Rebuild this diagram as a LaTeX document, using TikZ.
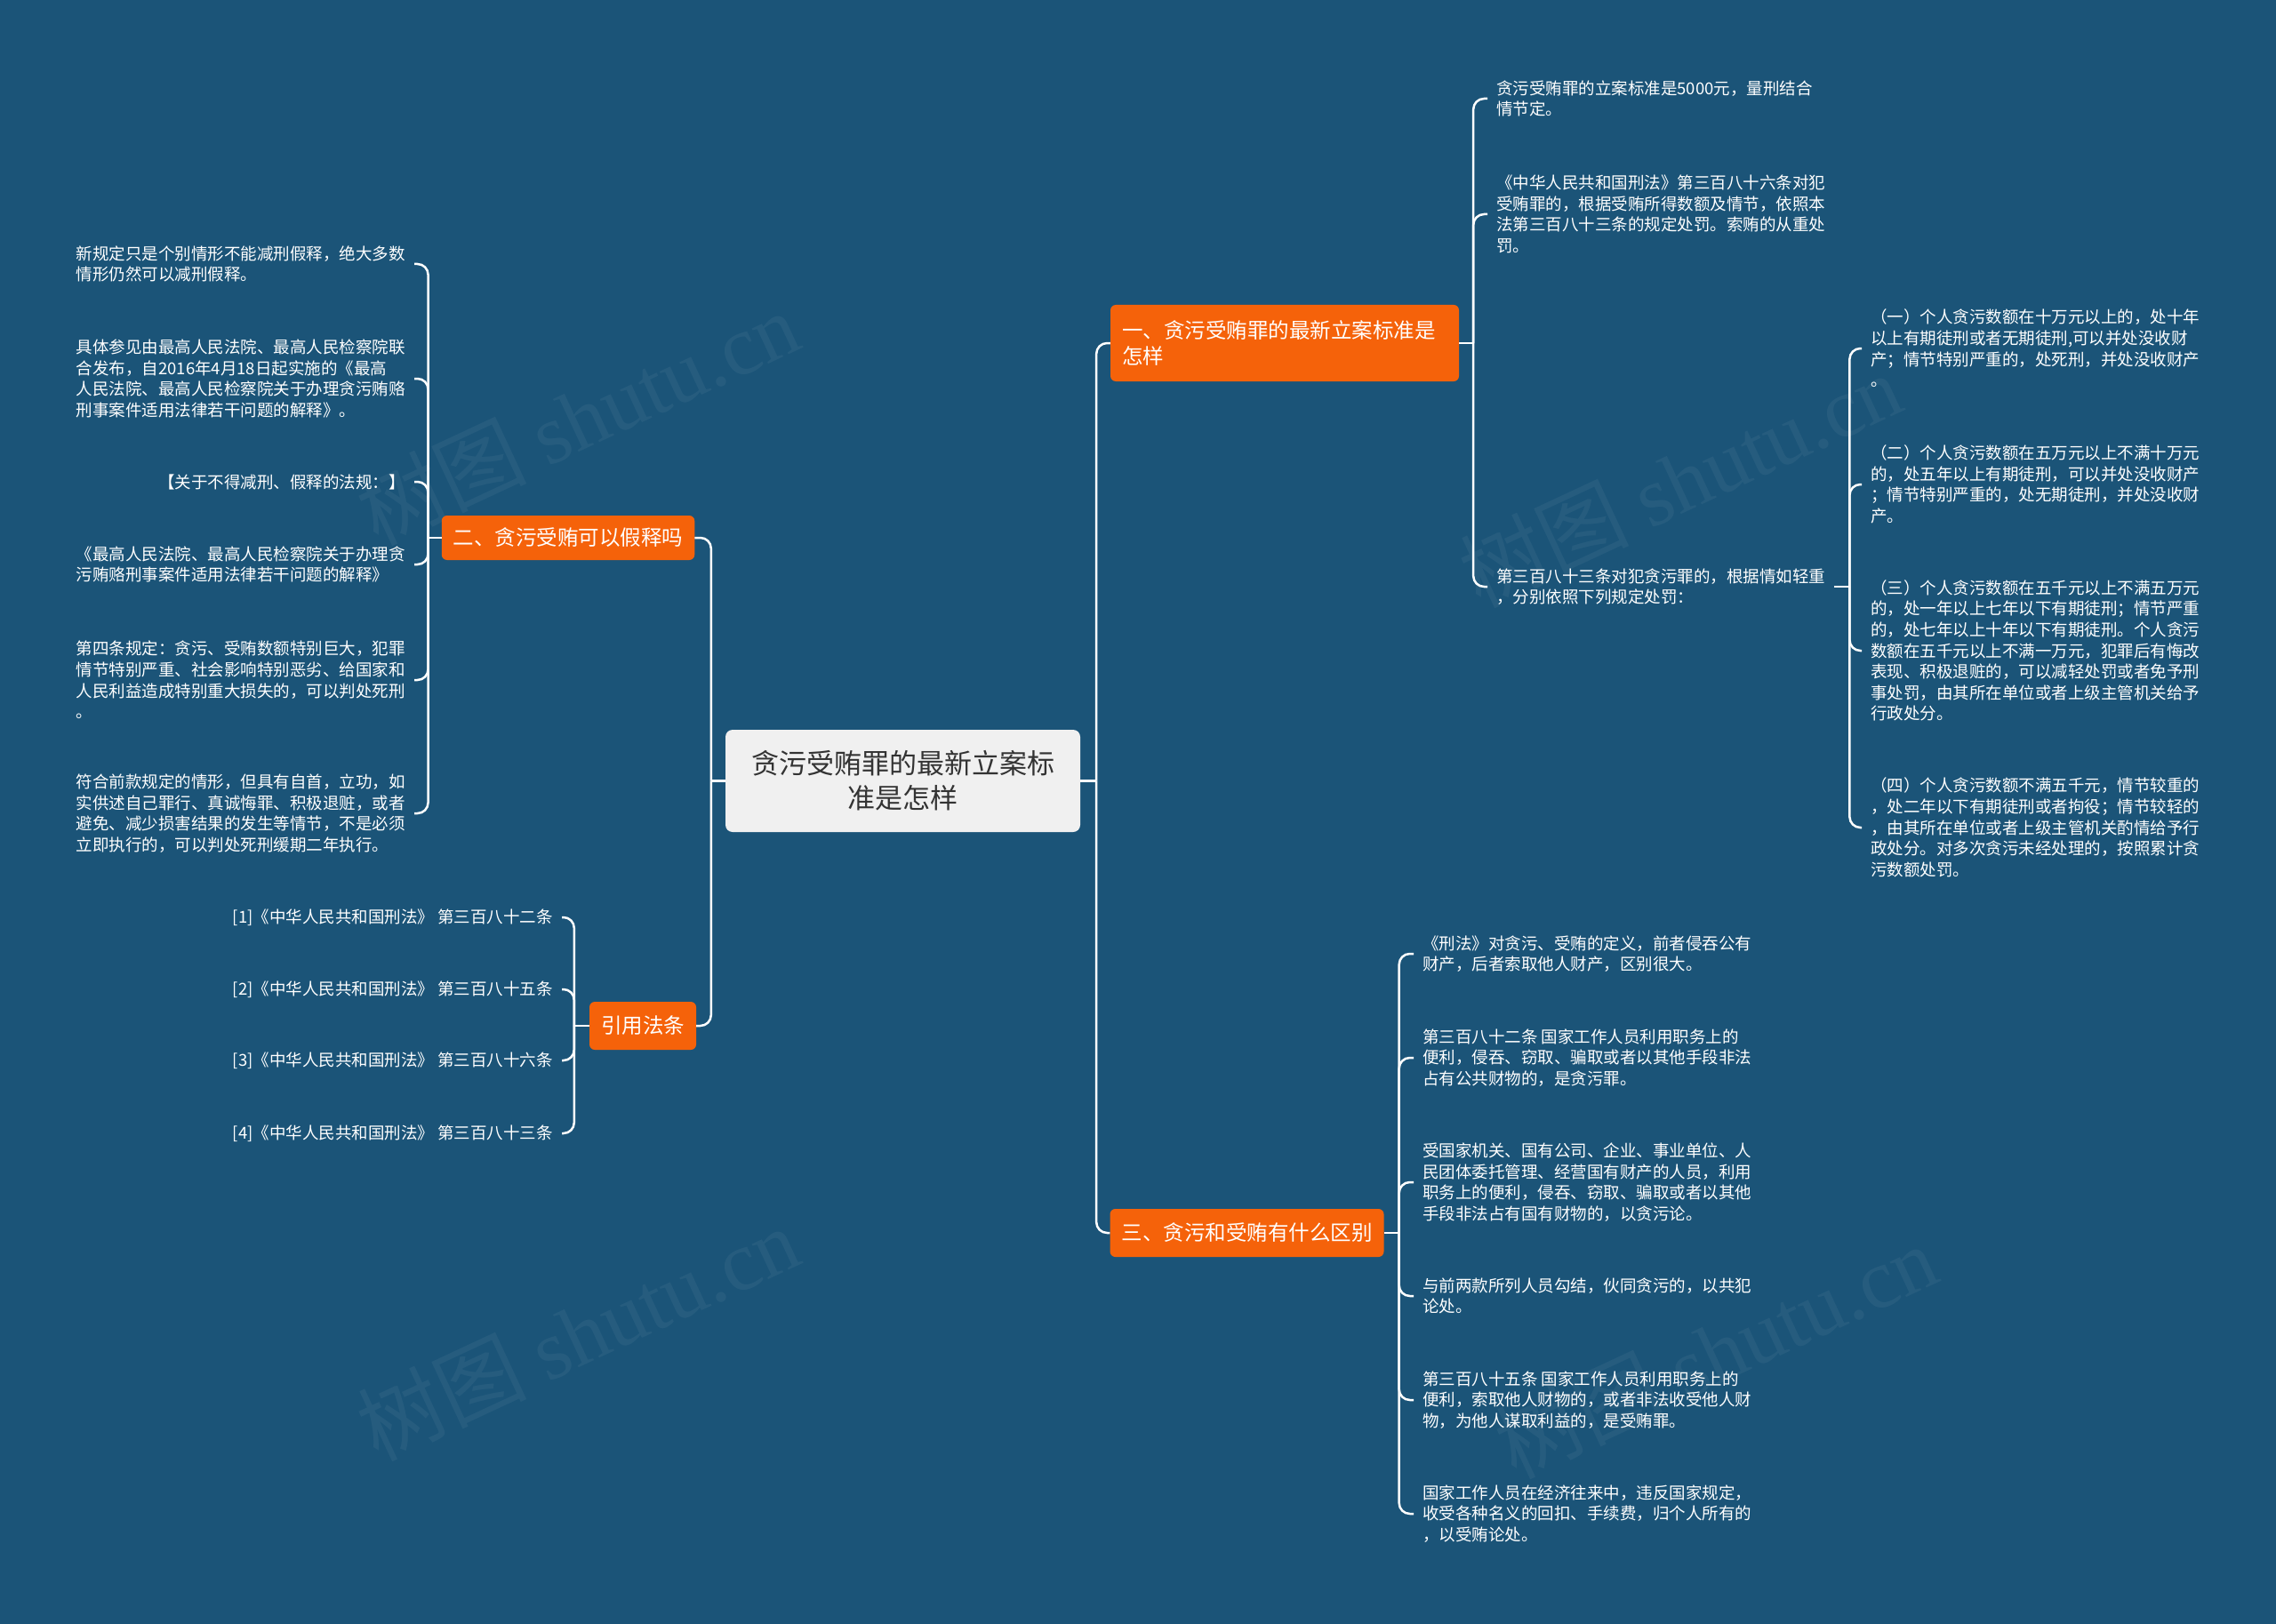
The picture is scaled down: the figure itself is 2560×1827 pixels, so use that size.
\documentclass[tikz,border=0pt]{standalone}
\usepackage{fontspec}
\setmainfont{Noto Sans CJK SC}
\newfontfamily\wmfont{Liberation Serif}
\definecolor{cBg}{HTML}{1B5478}
\definecolor{cBranch}{HTML}{F5620A}
\definecolor{cRoot}{HTML}{F0F0F0}
\definecolor{cRootInk}{HTML}{333333}
\tikzset{
  rootbox/.style={rounded corners=8pt, fill=cRoot, text=cRootInk, align=center, minimum width=399pt, minimum height=115pt, inner sep=0pt, font=\fontsize{31}{39}\selectfont},
  branchbox/.style={rounded corners=6pt, fill=cBranch, text=white, align=left, inner xsep=13pt, inner ysep=0pt, font=\fontsize{23.5}{29}\selectfont},
  leafbox/.style={text=white, align=left, inner xsep=10pt, inner ysep=0pt, font=\fontsize{18.5}{23.6}\selectfont},
  link/.style={draw=white, line width=2.5pt, rounded corners=12pt},
  wmark/.style={text=white, text opacity=0.05, rotate=25, inner sep=0pt, font=\fontsize{95}{95}\selectfont},
}
\begin{document}
\begin{tikzpicture}[x=1pt, y=-1pt]
\useasboundingbox[fill=cBg] (0,0) rectangle (2560,1827);
% watermarks
\node[wmark] (wm1) at (650,470) {树图 {\wmfont shutu.cn}};
\node[wmark] (wm2) at (1890,540) {树图 {\wmfont shutu.cn}};
\node[wmark] (wm3) at (650,1500) {树图 {\wmfont shutu.cn}};
\node[wmark] (wm4) at (1930,1520) {树图 {\wmfont shutu.cn}};
% centre and branches
\node[rootbox] (root) at (1015.5,878.5) {贪污受贿罪的最新立案标\\准是怎样};
\node[branchbox, minimum width=282pt, minimum height=50pt] (b2) at (639,605) {二、贪污受贿可以假释吗};
\node[branchbox, minimum width=118pt, minimum height=54pt] (b4) at (723,1154) {引用法条};
\node[branchbox, text width=366pt, minimum height=86pt] (b1) at (1445,386) {一、贪污受贿罪的最新立案标准是\\怎样};
\node[branchbox, minimum width=307pt, minimum height=54pt] (b3) at (1402.5,1387) {三、贪污和受贿有什么区别};
% branch 一
\node[leafbox, anchor=west] (r1) at (1673,111) {贪污受贿罪的立案标准是5000元，量刑结合\\情节定。};
\node[leafbox, anchor=west] (r2) at (1673,241) {《中华人民共和国刑法》第三百八十六条对犯\\受贿罪的，根据受贿所得数额及情节，依照本\\法第三百八十三条的规定处罚。索贿的从重处\\罚。};
\node[leafbox, anchor=west] (r3) at (1673,660) {第三百八十三条对犯贪污罪的，根据情如轻重\\，分别依照下列规定处罚：};
\node[leafbox, anchor=west] (g1) at (2094,392) {（一）个人贪污数额在十万元以上的，处十年\\以上有期徒刑或者无期徒刑,可以并处没收财\\产；情节特别严重的，处死刑，并处没收财产\\。};
\node[leafbox, anchor=west] (g2) at (2094,545) {（二）个人贪污数额在五万元以上不满十万元\\的，处五年以上有期徒刑，可以并处没收财产\\；情节特别严重的，处无期徒刑，并处没收财\\产。};
\node[leafbox, anchor=west] (g3) at (2094,732) {（三）个人贪污数额在五千元以上不满五万元\\的，处一年以上七年以下有期徒刑；情节严重\\的，处七年以上十年以下有期徒刑。个人贪污\\数额在五千元以上不满一万元，犯罪后有悔改\\表现、积极退赃的，可以减轻处罚或者免予刑\\事处罚，由其所在单位或者上级主管机关给予\\行政处分。};
\node[leafbox, anchor=west] (g4) at (2094,931) {（四）个人贪污数额不满五千元，情节较重的\\，处二年以下有期徒刑或者拘役；情节较轻的\\，由其所在单位或者上级主管机关酌情给予行\\政处分。对多次贪污未经处理的，按照累计贪\\污数额处罚。};
% branch 三
\node[leafbox, anchor=west] (t1) at (1590,1073) {《刑法》对贪污、受贿的定义，前者侵吞公有\\财产，后者索取他人财产，区别很大。};
\node[leafbox, anchor=west] (t2) at (1590,1190) {第三百八十二条 国家工作人员利用职务上的\\便利，侵吞、窃取、骗取或者以其他手段非法\\占有公共财物的，是贪污罪。};
\node[leafbox, anchor=west] (t3) at (1590,1330) {受国家机关、国有公司、企业、事业单位、人\\民团体委托管理、经营国有财产的人员，利用\\职务上的便利，侵吞、窃取、骗取或者以其他\\手段非法占有国有财物的，以贪污论。};
\node[leafbox, anchor=west] (t4) at (1590,1458) {与前两款所列人员勾结，伙同贪污的，以共犯\\论处。};
\node[leafbox, anchor=west] (t5) at (1590,1575) {第三百八十五条 国家工作人员利用职务上的\\便利，索取他人财物的，或者非法收受他人财\\物，为他人谋取利益的，是受贿罪。};
\node[leafbox, anchor=west] (t6) at (1590,1703) {国家工作人员在经济往来中，违反国家规定，\\收受各种名义的回扣、手续费，归个人所有的\\，以受贿论处。};
% branch 二
\node[leafbox, anchor=east] (l1) at (466,297) {新规定只是个别情形不能减刑假释，绝大多数\\情形仍然可以减刑假释。};
\node[leafbox, anchor=east] (l2) at (466,426) {具体参见由最高人民法院、最高人民检察院联\\合发布，自2016年4月18日起实施的《最高\\人民法院、最高人民检察院关于办理贪污贿赂\\刑事案件适用法律若干问题的解释》。};
\node[leafbox, anchor=east] (l3) at (466,542) {【关于不得减刑、假释的法规：】};
\node[leafbox, anchor=east] (l4) at (466,635) {《最高人民法院、最高人民检察院关于办理贪\\污贿赂刑事案件适用法律若干问题的解释》};
\node[leafbox, anchor=east] (l5) at (466,765) {第四条规定：贪污、受贿数额特别巨大，犯罪\\情节特别严重、社会影响特别恶劣、给国家和\\人民利益造成特别重大损失的，可以判处死刑\\。};
\node[leafbox, anchor=east] (l6) at (466,915) {符合前款规定的情形，但具有自首，立功，如\\实供述自己罪行、真诚悔罪、积极退赃，或者\\避免、减少损害结果的发生等情节，不是必须\\立即执行的，可以判处死刑缓期二年执行。};
% 引用法条
\node[leafbox, anchor=east] (c1) at (632,1032) {[1]《中华人民共和国刑法》 第三百八十二条};
\node[leafbox, anchor=east] (c2) at (632,1113) {[2]《中华人民共和国刑法》 第三百八十五条};
\node[leafbox, anchor=east] (c3) at (632,1193) {[3]《中华人民共和国刑法》 第三百八十六条};
\node[leafbox, anchor=east] (c4) at (632,1275) {[4]《中华人民共和国刑法》 第三百八十三条};
% links
\coordinate (jl) at ([xshift=-16pt]root.west);
\coordinate (jr) at ([xshift=18pt]root.east);
\draw[link] (root.west) -- (jl);
\draw[link] (root.east) -- (jr);
\foreach \n in {b2,b4} \draw[link] (jl) |- (\n.east);
\foreach \n in {b1,b3} \draw[link] (jr) |- (\n.west);
\coordinate (j1) at ([xshift=16pt]b1.east);
\draw[link] (b1.east) -- (j1);
\foreach \n in {r1,r2,r3} \draw[link] (j1) |- (\n.west);
\coordinate (j13) at ([xshift=17pt]r3.east);
\draw[link] (r3.east) -- (j13);
\foreach \n in {g1,g2,g3,g4} \draw[link] (j13) |- (\n.west);
\coordinate (j3) at ([xshift=17pt]b3.east);
\draw[link] (b3.east) -- (j3);
\foreach \n in {t1,t2,t3,t4,t5,t6} \draw[link] (j3) |- (\n.west);
\coordinate (j2) at ([xshift=-15pt]b2.west);
\draw[link] (b2.west) -- (j2);
\foreach \n in {l1,l2,l3,l4,l5,l6} \draw[link] (j2) |- (\n.east);
\coordinate (j4) at ([xshift=-17pt]b4.west);
\draw[link] (b4.west) -- (j4);
\foreach \n in {c1,c2,c3,c4} \draw[link] (j4) |- (\n.east);
\end{tikzpicture}
\end{document}
